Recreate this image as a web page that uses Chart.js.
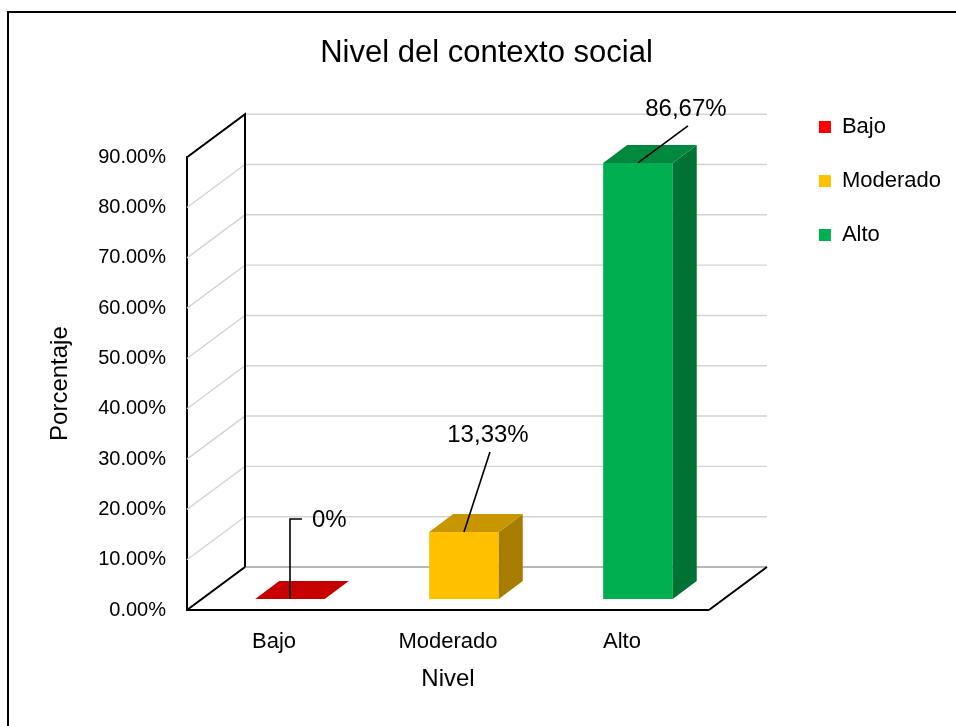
<!DOCTYPE html>
<html>
<head>
<meta charset="utf-8">
<script src="https://cdn.jsdelivr.net/npm/chart.js@4.4.0/dist/chart.umd.min.js"></script>
<style>
  html, body { margin: 0; padding: 0; background: #fff; }
  #wrap { width: 956px; height: 726px; }
</style>
</head>
<body>
<div id="wrap"><canvas id="barChart" width="956" height="726"></canvas></div>
<script>
// data
const categories = ["Bajo", "Moderado", "Alto"];
const porcentajes = [0, 13.33, 86.67];
const barColors = ["#FF0000", "#FFC000", "#00B050"];
const yMax = 90;
const yStep = 10;

// 3d look
const DX = 58, DY = 43;           // wall depth
const SX = 16, SY = 11;           // bars sit a bit behind the front edge
const BDX = 24, BDY = 18;         // bar depth

const shade = (hex, f) => {
  const n = parseInt(hex.slice(1), 16);
  const r = Math.round(((n >> 16) & 255) * f);
  const g = Math.round(((n >> 8) & 255) * f);
  const b = Math.round((n & 255) * f);
  return `rgb(${r},${g},${b})`;
};

const poly = (ctx, pts) => {
  ctx.beginPath();
  ctx.moveTo(pts[0][0], pts[0][1]);
  pts.slice(1).forEach(p => ctx.lineTo(p[0], p[1]));
  ctx.closePath();
  ctx.fill();
};

// label leader lines + text spot, relative to top front edge of each bar
const leaders = [[[0, -80], [12, -80]], [[26, -80]], [[50, -37]]];
const labelSpots = [[22, -79, 'left'], [24, -97, 'center'], [48, -54, 'center']];

const fmt = v => v === 0 ? '0%' : v.toFixed(2).replace('.', ',') + '%';

const threeD = {
  id: 'threeD',
  beforeDraw(chart) {
    const ctx = chart.ctx;
    ctx.save();
    ctx.strokeStyle = '#000';
    ctx.lineWidth = 2;
    ctx.strokeRect(8, 12, 1000, 1000);
    ctx.restore();
  },
  beforeDatasetsDraw(chart) {
    const {ctx, chartArea: a, scales: {y}} = chart;
    ctx.save();
    ctx.lineWidth = 1.4;
    y.ticks.forEach(t => {
      const py = y.getPixelForValue(t.value);
      ctx.strokeStyle = t.value === 0 ? '#a0a0a0' : '#d4d4d4';
      ctx.beginPath();
      ctx.moveTo(a.left, py);
      ctx.lineTo(a.left + DX, py - DY);
      ctx.lineTo(a.right + DX, py - DY);
      ctx.stroke();
    });
    ctx.strokeStyle = '#000';
    ctx.lineWidth = 2;
    ctx.beginPath();
    ctx.moveTo(a.left, a.top);
    ctx.lineTo(a.left + DX, a.top - DY);
    ctx.lineTo(a.left + DX, a.bottom - DY);
    ctx.moveTo(a.left, a.bottom);
    ctx.lineTo(a.left + DX, a.bottom - DY);
    ctx.moveTo(a.right, a.bottom);
    ctx.lineTo(a.right + DX, a.bottom - DY);
    ctx.stroke();
    ctx.restore();

    ctx.save();
    ctx.translate(SX, -SY);
  },
  afterDatasetsDraw(chart) {
    const ctx = chart.ctx;
    const meta = chart.getDatasetMeta(0);
    meta.data.forEach((bar, i) => {
      const {x, y, base, width} = bar.getProps(['x', 'y', 'base', 'width'], true);
      const l = x - width / 2, r = x + width / 2;
      const c = barColors[i];
      if (base - y > 0.5) {
        ctx.fillStyle = shade(c, 0.65);
        poly(ctx, [[r, y], [r + BDX, y - BDY], [r + BDX, base - BDY], [r, base]]);
      }
      ctx.fillStyle = shade(c, 0.78);
      poly(ctx, [[l, y], [r, y], [r + BDX, y - BDY], [l + BDX, y - BDY]]);
    });
    ctx.restore();

    // data labels
    ctx.save();
    ctx.strokeStyle = '#000';
    ctx.lineWidth = 1.6;
    ctx.fillStyle = '#000';
    ctx.font = "24px 'Liberation Sans', Arial, sans-serif";
    ctx.textBaseline = 'middle';
    meta.data.forEach((bar, i) => {
      const ax = bar.x + SX, ay = bar.y - SY;
      ctx.beginPath();
      ctx.moveTo(ax, ay);
      leaders[i].forEach(p => ctx.lineTo(ax + p[0], ay + p[1]));
      ctx.stroke();
      const s = labelSpots[i];
      ctx.textAlign = s[2];
      ctx.fillText(fmt(porcentajes[i]), ax + s[0], ay + s[1]);
    });
    ctx.restore();
  }
};

Chart.defaults.font.family = "'Liberation Sans', Arial, sans-serif";
Chart.defaults.color = '#000';

const ctx = document.getElementById('barChart').getContext('2d');

new Chart(ctx, {
  type: 'bar',
  data: {
    labels: categories,
    datasets: [{
      label: 'Porcentaje',
      data: porcentajes,
      backgroundColor: barColors,
      borderWidth: 0,
      categoryPercentage: 0.8,
      barPercentage: 0.5
    }]
  },
  options: {
    responsive: false,
    animation: false,
    layout: { padding: { left: 22, top: 0, right: 5, bottom: 0 } },
    plugins: {
      title: {
        display: true,
        text: 'Nivel del contexto social',
        color: '#000',
        font: { size: 31, weight: 'normal' },
        padding: { top: 35, bottom: 85 }
      },
      legend: {
        position: 'right',
        align: 'start',
        maxWidth: 170,
        title: { display: true, text: ' ', font: { size: 12 }, padding: { top: 69.6, bottom: 0 } },
        labels: {
          boxWidth: 12,
          boxHeight: 12,
          padding: 32,
          color: '#000',
          font: { size: 22 },
          generateLabels: chart => chart.data.labels.map((l, i) => ({
            text: l,
            fillStyle: barColors[i],
            strokeStyle: barColors[i],
            lineWidth: 0,
            fontColor: '#000',
            hidden: false,
            index: i
          }))
        },
        onClick: () => {}
      },
      tooltip: { enabled: false }
    },
    scales: {
      x: {
        grid: { display: false, drawTicks: false },
        border: { display: true, color: '#000', width: 2 },
        ticks: { color: '#000', font: { size: 22 }, padding: 19 },
        title: { display: true, text: 'Nivel', color: '#000', font: { size: 24 }, padding: { top: 0, bottom: 32.6 } },
        afterFit: s => { s.height = 116; }
      },
      y: {
        min: 0,
        max: yMax,
        grid: { display: false, drawTicks: false },
        border: { display: true, color: '#000', width: 2 },
        ticks: {
          stepSize: yStep,
          color: '#000',
          font: { size: 20 },
          padding: 21,
          callback: v => v.toFixed(2) + '%'
        },
        title: { display: true, text: 'Porcentaje', color: '#000', font: { size: 24 }, padding: { top: 23.6, bottom: 0 } },
        afterFit: s => { s.width = 165; }
      },
      y2: {
        position: 'right',
        display: true,
        grid: { display: false, drawTicks: false },
        border: { display: false },
        ticks: { display: false },
        afterFit: s => { s.width = 78; }
      }
    }
  },
  plugins: [threeD]
});
</script>
</body>
</html>
